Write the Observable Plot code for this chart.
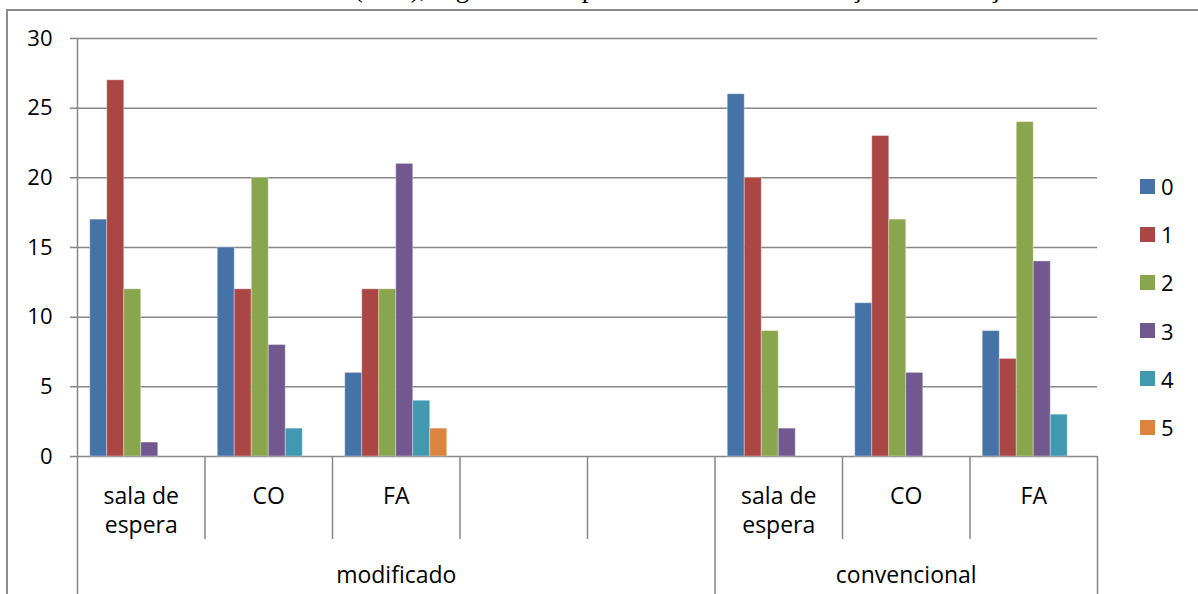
<!DOCTYPE html>
<html>
<head>
<meta charset="utf-8">
<script src="https://cdn.jsdelivr.net/npm/d3@7"></script>
<script src="https://cdn.jsdelivr.net/npm/@observablehq/plot@0.6"></script>
<style>
  html, body { margin: 0; padding: 0; background: #fff; }
  #wrap { position: relative; width: 1198px; height: 594px; overflow: hidden; background: #fff; }
  #title { position: absolute; left: 12px; top: -25px; font-family: "Liberation Serif", serif; font-size: 27px; line-height: 27px; white-space: nowrap; color: #000; }
  #border { position: absolute; left: 6px; top: 9px; width: 1400px; height: 800px; border-left: 2px solid #8c8c8c; border-top: 2px solid #8c8c8c; }
  .layer { position: absolute; left: 0; top: 0; }
  .item { position: absolute; left: 1140px; height: 24px; display: flex; align-items: center; font-family: "Open Sans", sans-serif; font-size: 22px; color: #000; }
  .sw { width: 15px; height: 15px; margin-right: 6px; }
</style>
</head>
<body>
<div id="wrap">
  <div id="title">Gráfico 6 – Nível de ansiedade (IDA), segundo o dispositivo e local de avaliação e orientação</div>
  <div id="border"></div>
</div>
<script>
// ---- data ----
const series = ["0", "1", "2", "3", "4", "5"];
const colors = ["#4572A7", "#AA4643", "#89A54E", "#71588F", "#4198AF", "#DB843D"];
const slotLabels = ["sala de\nespera", "CO", "FA", "", "", "sala de\nespera", "CO", "FA"];
const groups = ["modificado", "convencional"];
const groupStart = [0, 5];
const groupEnd = [5, 8];
const v0 = [17, 15, 6, null, null, 26, 11, 9];
const v1 = [27, 12, 12, null, null, 20, 23, 7];
const v2 = [12, 20, 12, null, null, 9, 17, 24];
const v3 = [1, 8, 21, null, null, 2, 6, 14];
const v4 = [0, 2, 4, null, null, 0, 0, 3];
const v5 = [0, 0, 2, null, null, 0, 0, 0];
const yTicks = [0, 5, 10, 15, 20, 25, 30];

// ---- build tables ----
const valuesBySeries = [v0, v1, v2, v3, v4, v5];
const slotKeys = slotLabels.map((_, i) => "s" + i);
const rows = [];
slotKeys.forEach((k, i) => valuesBySeries.forEach((arr, s) => {
  if (arr[i] != null) rows.push({slot: k, series: series[s], value: arr[i]});
}));
const slotIdx = slotLabels.map((_, i) => i);
const innerBounds = d3.range(1, slotLabels.length).filter(b => !groupStart.includes(b));
const groupIdx = groups.map((_, i) => i);

const W = 1198, H = 594, ML = 77, MR = 101, MT = 38, MB = 138;
const grid = "#878787";
const font = "Open Sans";
const fs = 23;

// ---- layer B: grid, y labels, category axis ----
const chartB = Plot.plot({
  width: W, height: H, marginLeft: ML, marginRight: MR, marginTop: MT, marginBottom: MB,
  style: {background: "transparent", fontFamily: font, overflow: "visible"},
  x: {domain: [0, slotLabels.length], axis: null},
  y: {domain: [0, 30], axis: null},
  marks: [
    Plot.ruleY(yTicks, {stroke: grid, strokeWidth: 1.5, insetLeft: -7}),
    Plot.text(yTicks, {y: d => d, frameAnchor: "left", dx: -25, textAnchor: "end", fontSize: 22, fill: "#000"}),
    Plot.ruleX([0], {stroke: grid, strokeWidth: 1.5, insetBottom: -MB}),
    Plot.ruleX([...groupStart.slice(1), slotLabels.length], {y1: 0, y2: 0, stroke: grid, strokeWidth: 1.5, insetBottom: -MB}),
    Plot.ruleX(innerBounds, {y1: 0, y2: 0, stroke: grid, strokeWidth: 1.5, insetBottom: -83}),
    Plot.text(slotIdx.filter(i => slotLabels[i] !== ""), {x: i => i + 0.5, y: 0, text: i => slotLabels[i], lineAnchor: "top", dy: 27, lineHeight: 1.27, fontSize: fs, fill: "#000"}),
    Plot.text(groupIdx, {x: i => (groupStart[i] + groupEnd[i]) / 2, y: 0, text: i => groups[i], lineAnchor: "top", dy: 110, fontSize: fs, fill: "#000"})
  ]
});

// ---- layer A: bars (faceted by slot) ----
const chartA = Plot.plot({
  width: W, height: H, marginLeft: ML, marginRight: MR, marginTop: MT, marginBottom: MB,
  style: {background: "transparent", overflow: "visible"},
  fx: {domain: slotKeys, padding: 0, round: false, axis: null, label: null},
  x: {domain: series, paddingInner: 0, paddingOuter: 0.75, round: false, axis: null},
  y: {domain: [0, 30], axis: null},
  color: {domain: series, range: colors},
  marks: [
    Plot.barY(rows, {filter: d => d.value > 0, fx: "slot", x: "series", y: "value", fill: "series", stroke: "#fff", strokeOpacity: 0.35, strokeWidth: 1})
  ]
});

const wrap = document.getElementById("wrap");
chartB.classList.add("layer");
chartA.classList.add("layer");
wrap.appendChild(chartB);
wrap.appendChild(chartA);

// ---- legend ----
series.forEach((s, i) => {
  const it = document.createElement("div");
  it.className = "item";
  it.style.top = (186 + 48.2 * i - 12) + "px";
  const sw = document.createElement("div");
  sw.className = "sw";
  sw.style.background = colors[i];
  const tx = document.createElement("span");
  tx.textContent = s;
  it.appendChild(sw);
  it.appendChild(tx);
  wrap.appendChild(it);
});
</script>
</body>
</html>
